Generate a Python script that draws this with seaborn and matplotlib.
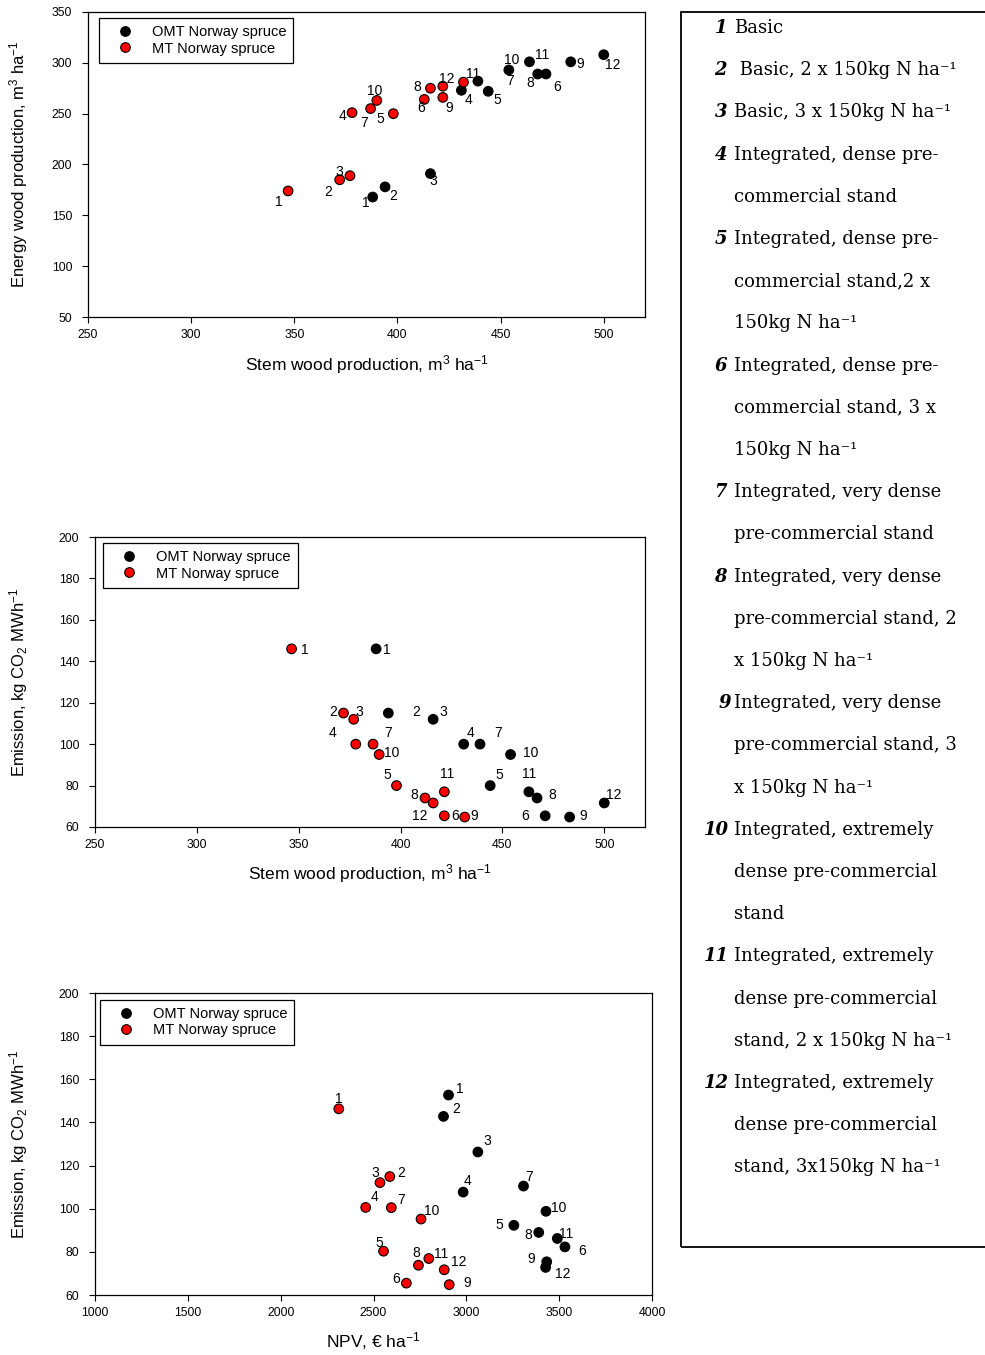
import numpy as np
import pandas as pd
import matplotlib
matplotlib.use("Agg")
import matplotlib.pyplot as plt
from matplotlib.patches import Rectangle
import seaborn as sns

sns.set_style("ticks")
plt.rcParams["font.family"] = ["Liberation Sans", "DejaVu Sans"]
plt.rcParams["text.color"] = "black"
plt.rcParams["axes.labelcolor"] = "black"
plt.rcParams["mathtext.fontset"] = "custom"
plt.rcParams["mathtext.rm"] = "Liberation Sans"
plt.rcParams["mathtext.it"] = "Liberation Sans:italic"
plt.rcParams["mathtext.bf"] = "Liberation Sans:bold"

sites = ["OMT Norway spruce", "MT Norway spruce"]
treatments = [str(i) for i in range(1, 13)]

# --- panel 1: stem wood vs energy wood production (treatments 1..12 as labelled)
omt_stem_p1 = [388, 394, 416, 431, 444, 472, 439, 468, 484, 454, 464, 500]
omt_energy_p1 = [168, 178, 191, 273, 272, 289, 282, 289, 301, 293, 301, 308]
mt_stem_p1 = [347, 372, 377, 378, 398, 413, 387, 416, 422, 390, 432, 422]
mt_energy_p1 = [174, 185, 189, 251, 250, 264, 255, 275, 266, 263, 281, 277]

# --- panel 2: stem wood vs emission
omt_stem_p2 = [388, 394, 416, 431, 444, 471, 439, 467, 483, 454, 463, 500]
omt_emis_p2 = [146, 115, 112, 100, 80, 65.4, 100, 74, 64.8, 95, 77, 71.6]
mt_stem_p2 = [346.5, 372, 377, 378, 398, 421.5, 386.5, 412, 431.5, 389.5, 421.5, 416]
mt_emis_p2 = [146, 115, 112, 100, 80, 65.4, 100, 74, 64.8, 95, 77, 71.6]

# --- panel 3: NPV vs emission
omt_npv = [2904, 2877, 3062, 2983, 3256, 3531, 3308, 3390, 3433, 3429, 3490, 3427]
omt_emis_p3 = [152.7, 142.8, 126.3, 107.7, 92.3, 82.3, 110.5, 89.0, 75.4, 98.8, 86.2, 72.8]
mt_npv = [2313, 2588, 2535, 2458, 2554, 2677, 2596, 2742, 2908, 2756, 2798, 2881]
mt_emis_p3 = [146.3, 114.9, 112.1, 100.6, 80.3, 65.5, 100.5, 73.8, 64.8, 95.2, 76.9, 71.7]

# label offsets (pixels, right / down) for the treatment numbers
off_omt_p1 = [(-7, 6), (8, 9), (3, 7), (7, 10), (9, 9), (11, 13), (32, 0), (-7, 9),
              (9, 2), (3, -10), (13, -7), (9, 10)]
off_mt_p1 = [(-9, 11), (-11, 12), (-11, -4), (-10, 3), (-13, 5), (-3, 9), (-7, 14),
             (-13, -1), (6, 11), (-2, -9), (10, -8), (4, -7)]
off_omt_p2 = [(11, 1), (28, -1), (10, -7), (7, -11), (9, -11), (-20, 0), (18, -11),
              (15, -3), (14, -1), (20, -1), (0, -18), (9, -8)]
off_mt_p2 = [(13, 1), (-10, -1), (6, -7), (-23, -11), (-9, -11), (11, 0), (15, -11),
             (-11, -3), (9, -1), (13, -1), (3, -18), (-13, 13)]
off_omt_p3 = [(11, -6), (13, -7), (9, -11), (4, -11), (-15, 0), (17, 4), (6, -9),
              (-10, 3), (-16, -3), (13, -3), (9, -4), (17, 7)]
off_mt_p3 = [(0, -10), (11, -4), (-5, -10), (9, -10), (-4, -8), (-10, -4), (10, -8),
             (-2, -12), (18, -2), (11, -8), (12, -5), (15, -8)]

palette = {sites[0]: "black", sites[1]: "#ff0000"}

fig = plt.figure(figsize=(9.85, 13.55), dpi=100)


def draw_panel(rect, x_omt, y_omt, x_mt, y_mt, off_omt, off_mt,
               xlabel, ylabel, xlim, ylim, xticks, yticks, leg_anchor, ylab_x, xlab_y):
    ax = fig.add_axes(rect)
    df = pd.DataFrame({
        "x": x_omt + x_mt,
        "y": y_omt + y_mt,
        "site": [sites[0]] * len(x_omt) + [sites[1]] * len(x_mt),
        "label": treatments * 2,
    })
    sns.scatterplot(data=df, x="x", y="y", hue="site", palette=palette, s=48,
                    edgecolor="black", linewidth=0.8, ax=ax, zorder=3)
    for (_, r), (dx, dy) in zip(df.iterrows(), off_omt + off_mt):
        ax.annotate(r["label"], (r["x"], r["y"]), xytext=(dx, -dy),
                    textcoords="offset pixels", ha="center", va="center", fontsize=10)
    ax.set_xlim(*xlim)
    ax.set_ylim(*ylim)
    ax.set_xticks(xticks)
    ax.set_yticks(yticks)
    ax.tick_params(direction="out", length=4.3, width=0.8, labelsize=8.8,
                   colors="black", top=False, right=False)
    ax.tick_params(axis="y", pad=7)
    ax.tick_params(axis="x", pad=4)
    for sp in ax.spines.values():
        sp.set_linewidth(0.9)
        sp.set_color("black")
    ax.set_xlabel(xlabel, fontsize=12.5)
    ax.set_ylabel(ylabel, fontsize=12)
    ax.yaxis.set_label_coords(ylab_x, 0.5)
    ax.xaxis.set_label_coords(0.5, xlab_y)
    handles, labels = ax.get_legend_handles_labels()
    leg = ax.legend(handles, labels, loc="upper left", bbox_to_anchor=leg_anchor,
                    frameon=True, fancybox=False, edgecolor="black", framealpha=1,
                    fontsize=10.5, handlelength=2.5, handletextpad=0.6, borderpad=0.5,
                    labelspacing=0.15, borderaxespad=0)
    leg.get_frame().set_linewidth(0.9)
    return ax


W, H = 985.0, 1355.0

draw_panel([88 / W, 1 - 317 / H, 557 / W, 305 / H],
           omt_stem_p1, omt_energy_p1, mt_stem_p1, mt_energy_p1, off_omt_p1, off_mt_p1,
           "Stem wood production, m$^{3}$ ha$^{-1}$",
           "Energy wood production, m$^{3}$ ha$^{-1}$",
           (250, 520), (50, 350), range(250, 501, 50), range(50, 351, 50),
           (0.02, 0.98), -0.105, -0.12)

draw_panel([95 / W, 1 - 827 / H, 550 / W, 290 / H],
           omt_stem_p2, omt_emis_p2, mt_stem_p2, mt_emis_p2, off_omt_p2, off_mt_p2,
           "Stem wood production, m$^{3}$ ha$^{-1}$",
           "Emission, kg CO$_{2}$ MWh$^{-1}$",
           (250, 520), (60, 200), range(250, 501, 50), range(60, 201, 20),
           (0.015, 0.979), -0.118, -0.12)

draw_panel([95 / W, 1 - 1295 / H, 557 / W, 302 / H],
           omt_npv, omt_emis_p3, mt_npv, mt_emis_p3, off_omt_p3, off_mt_p3,
           "NPV, € ha$^{-1}$",
           "Emission, kg CO$_{2}$ MWh$^{-1}$",
           (1000, 4000), (60, 200), range(1000, 4001, 500), range(60, 201, 20),
           (0.009, 0.977), -0.117, -0.115)

# --- treatment key on the right
key_lines = [
    ("1", "Basic"),
    ("2", " Basic, 2 x 150kg N ha⁻¹"),
    ("3", "Basic, 3 x 150kg N ha⁻¹"),
    ("4", "Integrated, dense pre-"),
    ("", "commercial stand"),
    ("5", "Integrated, dense pre-"),
    ("", "commercial stand,2 x"),
    ("", "150kg N ha⁻¹"),
    ("6", "Integrated, dense pre-"),
    ("", "commercial stand, 3 x"),
    ("", "150kg N ha⁻¹"),
    ("7", "Integrated, very dense"),
    ("", "pre-commercial stand"),
    ("8", "Integrated, very dense"),
    ("", "pre-commercial stand, 2"),
    ("", "x 150kg N ha⁻¹"),
    ("9", "Integrated, very dense"),
    ("", "pre-commercial stand, 3"),
    ("", "x 150kg N ha⁻¹"),
    ("10", "Integrated, extremely"),
    ("", "dense pre-commercial"),
    ("", "stand"),
    ("11", "Integrated, extremely"),
    ("", "dense pre-commercial"),
    ("", "stand, 2 x 150kg N ha⁻¹"),
    ("12", "Integrated, extremely"),
    ("", "dense pre-commercial"),
    ("", "stand, 3x150kg N ha⁻¹"),
]

fig.patches.append(Rectangle((681 / W, 1 - 1247 / H), 0.4, (1247 - 12) / H,
                             transform=fig.transFigure, fill=False,
                             edgecolor="black", linewidth=1.3))

serif = ["DejaVu Serif"]
for i, (num, body) in enumerate(key_lines):
    y = 1 - (28 + 42.2 * i) / H
    if num:
        nx = 731 if num == "9" else (729 if len(num) == 2 else 727)
        fig.text(nx / W, y, num, family=serif, fontsize=13, fontweight="bold",
                 fontstyle="italic", ha="right", va="center")
    fig.text(734 / W, y, body, family=serif, fontsize=13, ha="left", va="center")

fig.savefig("out.png", dpi=100)
